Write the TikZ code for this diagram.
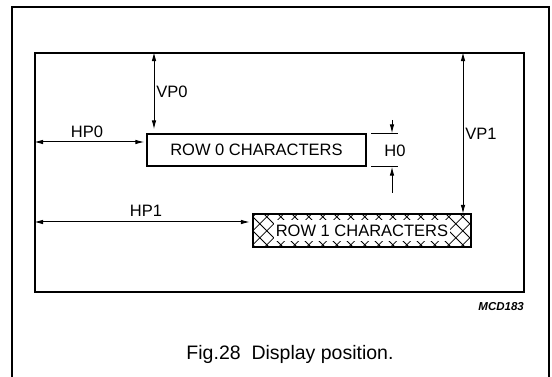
\documentclass[tikz,border=0pt]{standalone}
\usepackage{fontspec}
\setmainfont{Liberation Sans}
\usetikzlibrary{arrows.meta}
\begin{document}
\begin{tikzpicture}[x=1pt,y=-1pt,
  frame/.style={line width=1.8pt},
  dimarrow/.style={line width=1pt, {Latex[length=9pt,width=4.6pt]}-{Latex[length=9pt,width=4.6pt]}},
  onearrow/.style={line width=1pt, -{Latex[length=9pt,width=4.6pt]}},
  extline/.style={line width=0.6pt},
  lbl/.style={font=\fontsize{16.5}{18}\selectfont, inner sep=0pt},
  hatchline/.style={line width=0.8pt}
]
\useasboundingbox (0,0) rectangle (552,377);
\fill[white] (0,0) rectangle (552,377);
% outer frame (open at bottom)
\draw[frame] (12,377) -- (12,7) -- (549,7) -- (549,377);
% inner display area
\node[draw, line width=1.8pt, minimum width=489pt, minimum height=239pt, inner sep=0pt] (inner) at (279.5,172.5) {};
% row 0 box
\node[draw, line width=1.3pt, minimum width=219pt, minimum height=32pt, lbl] (r0) at (256.5,150) {ROW 0 CHARACTERS};
% row 1 box (hatched)
\node[fill=white, minimum width=218pt, minimum height=33pt, inner sep=0pt] (r1) at (362,230.5) {};
\begin{scope}
  \clip (r1.north west) rectangle (r1.south east);
  \foreach \i in {-3,...,20} {
    \draw[hatchline] ([xshift=\i*14pt-3pt]r1.north west) -- ++(36,36);
    \draw[hatchline] ([xshift=\i*14pt+3pt]r1.north west) -- ++(-36,36);
  }
\end{scope}
\node[fill=white, lbl, minimum height=21pt, inner xsep=2pt] (r1t) at (r1.center) {ROW 1 CHARACTERS};
\draw[line width=2.2pt] (r1.north west) rectangle (r1.south east);
% dimension arrows
\coordinate (vp0) at (154,0);
\coordinate (vp1) at (463,0);
\coordinate (hp0) at (0,142);
\coordinate (hp1) at (0,222);
\coordinate (h0t) at (392,120);
\coordinate (h0b) at (392,193);
\coordinate (e1) at (371,0);
\coordinate (e2) at (398,0);
\draw[dimarrow, shorten >=4pt] (vp0 |- inner.north) -- (vp0 |- r0.north);
\draw[dimarrow, shorten >=2pt] (inner.west |- hp0) -- (r0.west |- hp0);
\draw[dimarrow, shorten >=3pt] (inner.west |- hp1) -- (r1.west |- hp1);
\draw[dimarrow] (vp1 |- inner.north) -- (vp1 |- r1.north);
\draw[onearrow] (h0t) -- (h0t |- r0.north);
\draw[onearrow] (h0b) -- (h0b |- r0.south);
\draw[extline] (e1 |- r0.north) -- (e2 |- r0.north);
\draw[extline] (e1 |- r0.south) -- (e2 |- r0.south);
% labels
\node[lbl] (lvp0) at (172,92) {VP0};
\node[lbl] (lhp0) at (87,132) {HP0};
\node[lbl] (lhp1) at (146,211) {HP1};
\node[lbl] (lvp1) at (481,134) {VP1};
\node[lbl] (lh0) at (395,151) {H0};
\node[font=\fontsize{11.5}{12}\selectfont\bfseries\itshape, anchor=east, inner sep=0pt] (mcd) at (524,307) {MCD183};
\node[font=\fontsize{19.5}{22}\selectfont, inner sep=0pt] (cap) at (290,354) {Fig.28\ \ Display position.};
\end{tikzpicture}
\end{document}
